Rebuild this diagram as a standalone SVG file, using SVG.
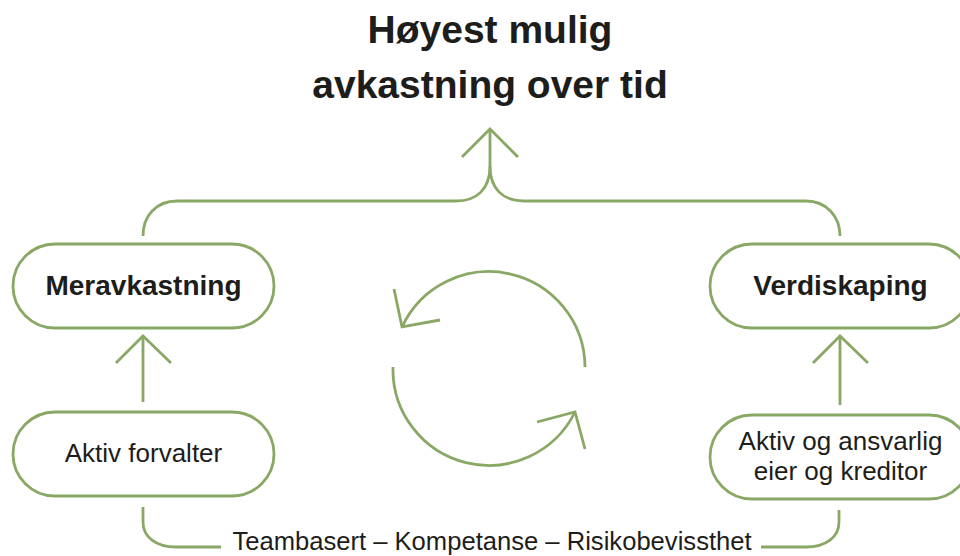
<svg xmlns="http://www.w3.org/2000/svg" width="960" height="556" viewBox="0 0 960 556">
<style>
.ln{fill:none;stroke:#8aa865;stroke-width:2.8;stroke-linecap:butt;stroke-linejoin:miter}
.pill{fill:#ffffff;stroke:#8aa865;stroke-width:2.8}
.t{font-family:"Liberation Sans",Arial,sans-serif;fill:#1d1d1b;text-anchor:middle}
.b{font-weight:bold}
</style>
<rect width="960" height="556" fill="#ffffff"/>
<g id="title">
<text class="t b" x="490" y="43" font-size="39">Høyest mulig</text>
<text class="t b" x="490" y="98" font-size="39">avkastning over tid</text>
</g>
<g id="connectors">
<path class="ln" d="M490,129 V166 C490,189 477,201 456,201 H177 C156,201 143,216 143,236"/>
<path class="ln" d="M490,166 C490,189 503,201 524,201 H806 C826,201 840,216 840,236"/>
<path class="ln" d="M462,157 L490,129 L518,157"/>
<path class="ln" d="M143,402 V336"/>
<path class="ln" d="M116,363 L143,336 L171,363"/>
<path class="ln" d="M840,405 V336"/>
<path class="ln" d="M813,363 L840,336 L868,363"/>
<path class="ln" d="M143,507 V522 C143,537 156,547 176,547 H221"/>
<path class="ln" d="M761,547 H806 C826,547 839,537 839,522 V510"/>
<path class="ln" d="M585,367 A96,96 0 0 0 402,327"/>
<path class="ln" d="M394,289 L402,327 L440,320"/>
<path class="ln" d="M393,367 A96,96 0 0 0 575,412"/>
<path class="ln" d="M537,422 L575,412 L585,449"/>
</g>
<g id="meravkastning">
<rect class="pill" x="13" y="244" width="261" height="84" rx="42"/>
<text class="t b" x="143.5" y="295" font-size="28">Meravkastning</text>
</g>
<g id="verdiskaping">
<rect class="pill" x="710" y="244" width="261" height="84" rx="42"/>
<text class="t b" x="840.5" y="295" font-size="28">Verdiskaping</text>
</g>
<g id="aktiv-forvalter">
<rect class="pill" x="13" y="412" width="261" height="84" rx="42"/>
<text class="t" x="143.5" y="462" font-size="26">Aktiv forvalter</text>
</g>
<g id="aktiv-eier">
<rect class="pill" x="710" y="415" width="261" height="84" rx="42"/>
<text class="t" x="840.5" y="450" font-size="26">Aktiv og ansvarlig</text>
<text class="t" x="840.5" y="480" font-size="26">eier og kreditor</text>
</g>
<g id="footer">
<text class="t" x="492" y="550" font-size="25.6">Teambasert – Kompetanse – Risikobevissthet</text>
</g>
</svg>
